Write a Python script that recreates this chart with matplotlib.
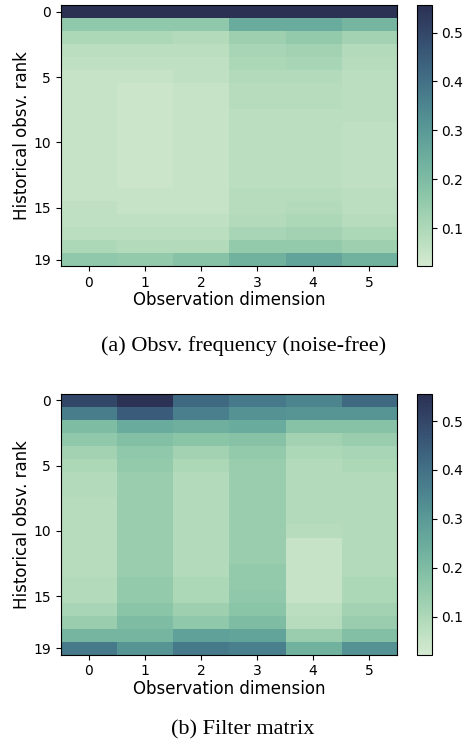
import numpy as np
import matplotlib
matplotlib.use("Agg")
import matplotlib.pyplot as plt
import seaborn as sns

# observation frequency (noise-free), 20 ranks x 6 dims
freq = [
    [0.555, 0.555, 0.555, 0.555, 0.555, 0.555],
    [0.16, 0.16, 0.16, 0.25, 0.25, 0.22],
    [0.10, 0.10, 0.09, 0.13, 0.15, 0.12],
    [0.07, 0.07, 0.07, 0.11, 0.12, 0.09],
    [0.06, 0.06, 0.06, 0.10, 0.11, 0.08],
    [0.05, 0.05, 0.06, 0.09, 0.09, 0.07],
    [0.05, 0.04, 0.05, 0.08, 0.08, 0.07],
    [0.05, 0.04, 0.05, 0.08, 0.08, 0.07],
    [0.05, 0.04, 0.05, 0.07, 0.07, 0.07],
    [0.05, 0.04, 0.05, 0.07, 0.07, 0.06],
    [0.05, 0.04, 0.05, 0.07, 0.07, 0.06],
    [0.05, 0.04, 0.05, 0.07, 0.07, 0.06],
    [0.05, 0.04, 0.05, 0.07, 0.07, 0.06],
    [0.05, 0.04, 0.05, 0.07, 0.07, 0.06],
    [0.05, 0.05, 0.05, 0.08, 0.08, 0.07],
    [0.06, 0.05, 0.05, 0.08, 0.09, 0.07],
    [0.06, 0.06, 0.06, 0.09, 0.10, 0.08],
    [0.07, 0.07, 0.07, 0.11, 0.12, 0.10],
    [0.10, 0.09, 0.09, 0.15, 0.15, 0.13],
    [0.16, 0.15, 0.18, 0.23, 0.27, 0.23],
]

# learned filter matrix
filt = [
    [0.50, 0.55, 0.42, 0.38, 0.35, 0.42],
    [0.37, 0.45, 0.36, 0.32, 0.31, 0.31],
    [0.20, 0.25, 0.24, 0.25, 0.18, 0.18],
    [0.16, 0.19, 0.17, 0.18, 0.12, 0.14],
    [0.12, 0.16, 0.12, 0.15, 0.10, 0.11],
    [0.10, 0.15, 0.10, 0.14, 0.09, 0.10],
    [0.09, 0.14, 0.09, 0.14, 0.09, 0.09],
    [0.09, 0.14, 0.09, 0.14, 0.09, 0.09],
    [0.08, 0.14, 0.09, 0.14, 0.09, 0.09],
    [0.08, 0.14, 0.09, 0.14, 0.09, 0.09],
    [0.08, 0.14, 0.09, 0.14, 0.08, 0.09],
    [0.08, 0.14, 0.09, 0.14, 0.05, 0.09],
    [0.08, 0.14, 0.09, 0.14, 0.05, 0.09],
    [0.08, 0.14, 0.09, 0.15, 0.05, 0.09],
    [0.09, 0.15, 0.10, 0.15, 0.05, 0.10],
    [0.09, 0.15, 0.10, 0.16, 0.05, 0.10],
    [0.11, 0.17, 0.13, 0.17, 0.07, 0.12],
    [0.14, 0.20, 0.16, 0.20, 0.08, 0.14],
    [0.22, 0.22, 0.28, 0.27, 0.14, 0.19],
    [0.38, 0.31, 0.38, 0.36, 0.23, 0.32],
]

yticks = [0, 5, 10, 15, 19]
xticks = [0, 1, 2, 3, 4, 5]
captions = ["(a) Obsv. frequency (noise-free)", "(b) Filter matrix"]

cmap = sns.cubehelix_palette(start=.2, rot=-.5, light=.88, dark=.2, as_cmap=True)

fig = plt.figure(figsize=(4.72, 7.5), dpi=100)

panels = [
    (freq, [0.129, 0.645, 0.712, 0.348], [0.883, 0.645, 0.032, 0.348], 0.539),
    (filt, [0.129, 0.127, 0.712, 0.348], [0.883, 0.127, 0.032, 0.348], 0.027),
]

for (data, pos, cpos, cy), cap in zip(panels, captions):
    ax = fig.add_axes(pos)
    cax = fig.add_axes(cpos)
    im = ax.imshow(np.array(data), cmap=cmap, aspect="auto", vmin=0.022, vmax=0.556,
                   interpolation="nearest")
    ax.set_xticks(xticks)
    ax.set_yticks(yticks)
    ax.tick_params(labelsize=10)
    ax.set_xlabel("Observation dimension", fontsize=12, labelpad=1)
    ax.set_ylabel("Historical obsv. rank", fontsize=12, labelpad=2)
    cb = fig.colorbar(im, cax=cax)
    cb.set_ticks([0.1, 0.2, 0.3, 0.4, 0.5])
    cb.ax.tick_params(labelsize=10)
    fig.text(0.515, cy, cap, ha="center", va="center", fontsize=16,
             family="Liberation Serif")

fig.savefig("out.png", dpi=100)
